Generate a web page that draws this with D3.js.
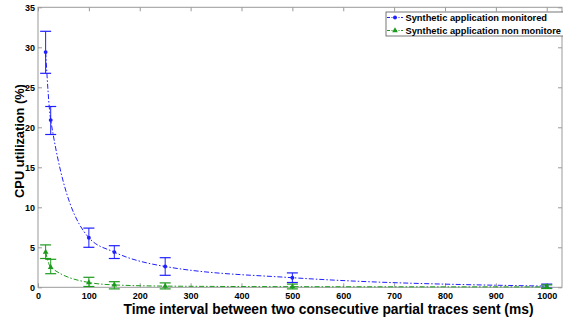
<!DOCTYPE html>
<html>
<head>
<meta charset="utf-8">
<script src="https://cdn.jsdelivr.net/npm/d3@7"></script>
<style>
  html, body { margin: 0; padding: 0; background: #fff; }
  text { font-family: "Liberation Sans", Arial, sans-serif; font-weight: bold; }
</style>
</head>
<body>
<div id="chart"></div>
<script>
// ---------- data ----------
const intervals = [15, 25, 100, 150, 250, 500, 1000];
const monitoredMean = [29.4, 20.9, 6.2, 4.4, 2.6, 1.2, 0.15];
const monitoredLow  = [26.75, 19.1, 5.0, 3.6, 1.5, 0.6, -0.1];
const monitoredHigh = [32.0, 22.6, 7.4, 5.2, 3.7, 1.8, 0.4];
const nonMonMean = [4.4, 2.5, 0.6, 0.3, 0.15, 0.08, 0.05];
const nonMonLow  = [3.6, 1.7, 0.1, -0.2, -0.3, -0.2, -0.15];
const nonMonHigh = [5.3, 3.5, 1.25, 0.7, 0.55, 0.4, 0.3];
const xTicks = [0, 100, 200, 300, 400, 500, 600, 700, 800, 900, 1000];
const yTicks = [0, 5, 10, 15, 20, 25, 30, 35];
const seriesNames = ["Synthetic application monitored", "Synthetic application non monitore"];

const series = [
  { name: seriesNames[0], mean: monitoredMean, lo: monitoredLow, hi: monitoredHigh, color: "#1f1fff", marker: d3.symbolCircle, msize: 12 },
  { name: seriesNames[1], mean: nonMonMean, lo: nonMonLow, hi: nonMonHigh, color: "#1c9a1c", marker: d3.symbolTriangle, msize: 14 }
];

// ---------- layout ----------
const W = 563, H = 320;
const mLeft = 38, mRight = 562, mTop = 7.3, mBottom = 287.3;

const svg = d3.select("#chart").append("svg")
  .attr("width", W).attr("height", H);

const x = d3.scaleLinear().domain([0, 1030]).range([mLeft, mRight]);
const y = d3.scaleLinear().domain([0, 35]).range([mBottom, mTop]);

const axisColor = "#9a9a9a";

// box
svg.append("rect")
  .attr("x", mLeft).attr("y", mTop)
  .attr("width", mRight - mLeft).attr("height", mBottom - mTop)
  .attr("fill", "none").attr("stroke", axisColor).attr("stroke-width", 1);

// ticks inside (bottom + top, left + right)
const tickLen = 4;
const gx = svg.append("g").attr("transform", `translate(0,${mBottom})`)
  .call(d3.axisBottom(x).tickValues(xTicks).tickFormat(d3.format("d"))
    .tickSizeInner(-tickLen).tickSizeOuter(0).tickPadding(5.8));
const gxTop = svg.append("g").attr("transform", `translate(0,${mTop})`)
  .call(d3.axisTop(x).tickValues(xTicks).tickSizeInner(-tickLen).tickSizeOuter(0).tickFormat(""));
const gy = svg.append("g").attr("transform", `translate(${mLeft},0)`)
  .call(d3.axisLeft(y).tickValues(yTicks).tickSizeInner(-tickLen).tickSizeOuter(0).tickPadding(3));
const gyR = svg.append("g").attr("transform", `translate(${mRight},0)`)
  .call(d3.axisRight(y).tickValues(yTicks).tickSizeInner(-tickLen).tickSizeOuter(0).tickFormat(""));

[gx, gxTop, gy, gyR].forEach(g => {
  g.select(".domain").remove();
  g.selectAll(".tick line").attr("stroke", axisColor);
  g.selectAll(".tick text").attr("fill", "#000")
    .style("font-size", "9px").style("font-family", "'Liberation Sans', Arial, sans-serif").style("font-weight", "bold");
});

// axis titles
svg.append("text")
  .attr("x", 328.5).attr("y", 314)
  .attr("text-anchor", "middle")
  .style("font-size", "13.8px")
  .text("Time interval between two consecutive partial traces sent (ms)");

svg.append("text")
  .attr("transform", `translate(23.5,141) rotate(-90)`)
  .attr("text-anchor", "middle")
  .style("font-size", "12.8px")
  .text("CPU utilization (%)");

// ---------- series ----------
const line = d3.line().curve(d3.curveMonotoneX);
const dash = "5,2,1.5,2";

series.forEach(s => {
  const pts = intervals.map((t, i) => [x(t), y(s.mean[i])]);
  const g = svg.append("g");

  g.append("path")
    .attr("d", line(pts))
    .attr("fill", "none")
    .attr("stroke", s.color)
    .attr("stroke-width", 1)
    .attr("stroke-dasharray", dash);

  const cap = 5.5;
  intervals.forEach((t, i) => {
    const cx = x(t), yl = y(Math.max(s.lo[i], -0.2)), yh = y(s.hi[i]);
    g.append("line").attr("x1", cx).attr("x2", cx).attr("y1", yl).attr("y2", yh)
      .attr("stroke", s.color).attr("stroke-width", 1);
    [yl, yh].forEach(yy => g.append("line")
      .attr("x1", cx - cap).attr("x2", cx + cap).attr("y1", yy).attr("y2", yy)
      .attr("stroke", s.color).attr("stroke-width", 1.2));
  });

  g.selectAll("path.m").data(pts).join("path")
    .attr("class", "m")
    .attr("transform", d => `translate(${d[0]},${d[1]})`)
    .attr("d", d3.symbol().type(s.marker).size(s.msize))
    .attr("fill", s.color);
});

// ---------- legend ----------
const lg = svg.append("g").attr("transform", "translate(386,12)");
lg.append("rect").attr("x", 0).attr("y", 0).attr("width", 190).attr("height", 24)
  .attr("fill", "#fff").attr("stroke", "#555").attr("stroke-width", 0.8);

series.forEach((s, i) => {
  const yy = 5.5 + i * 13;
  lg.append("line").attr("x1", 1).attr("x2", 17).attr("y1", yy).attr("y2", yy)
    .attr("stroke", s.color).attr("stroke-dasharray", "3,1.5,1,1.5");
  lg.append("path")
    .attr("transform", `translate(9,${yy})`)
    .attr("d", d3.symbol().type(s.marker).size(s.msize))
    .attr("fill", s.color);
  lg.append("text").attr("x", 19.5).attr("y", yy + 3.3)
    .style("font-size", "9.3px")
    .text(s.name);
});
</script>
</body>
</html>
